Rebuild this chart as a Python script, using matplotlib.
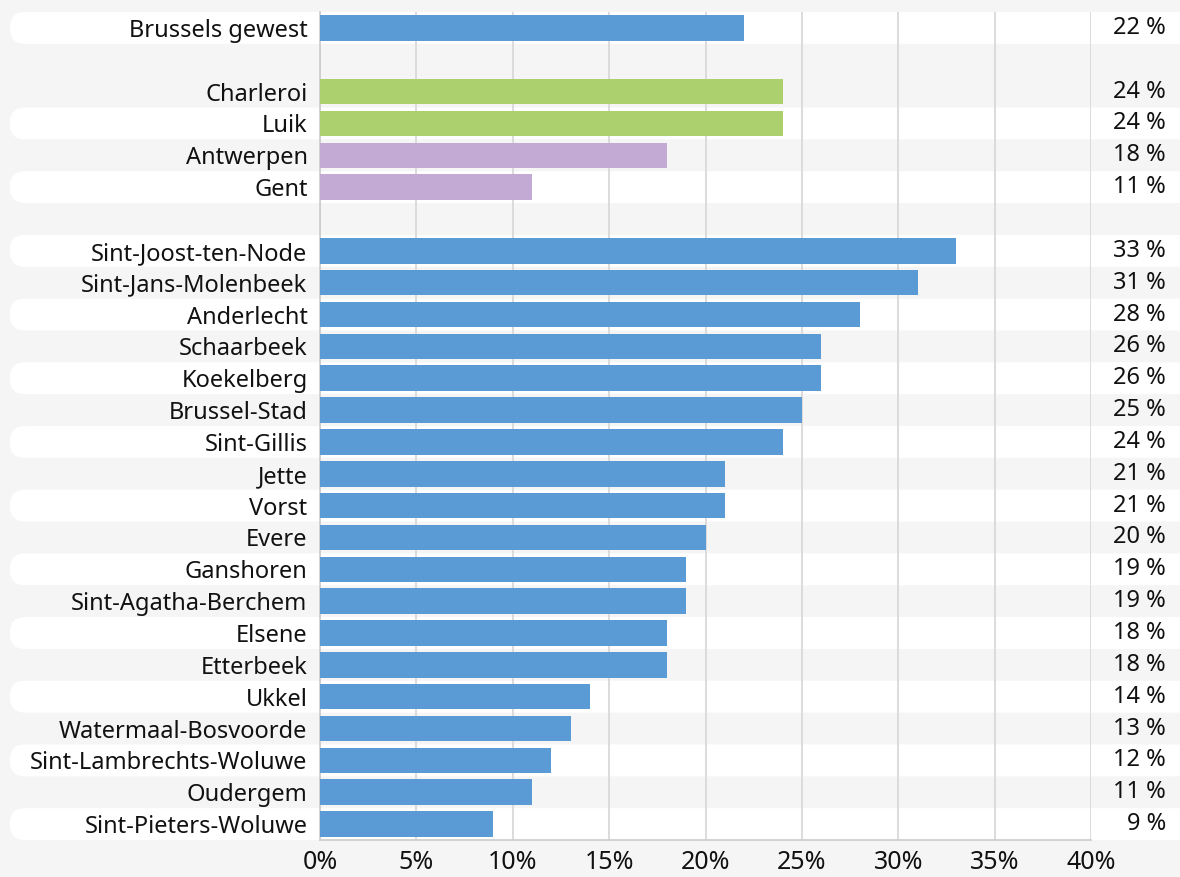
import matplotlib
matplotlib.use("Agg")
import matplotlib.pyplot as plt
from matplotlib.patches import FancyBboxPatch
from matplotlib.transforms import blended_transform_factory

# ---- data (top to bottom); None marks an empty spacer row ----
labels = ["Brussels gewest", None,
          "Charleroi", "Luik", "Antwerpen", "Gent", None,
          "Sint-Joost-ten-Node", "Sint-Jans-Molenbeek", "Anderlecht", "Schaarbeek",
          "Koekelberg", "Brussel-Stad", "Sint-Gillis", "Jette", "Vorst", "Evere",
          "Ganshoren", "Sint-Agatha-Berchem", "Elsene", "Etterbeek", "Ukkel",
          "Watermaal-Bosvoorde", "Sint-Lambrechts-Woluwe", "Oudergem",
          "Sint-Pieters-Woluwe"]
values = [22, None,
          24, 24, 18, 11, None,
          33, 31, 28, 26, 26, 25, 24, 21, 21, 20, 19, 19, 18, 18, 14, 13, 12, 11, 9]
groups = ["region", None,
          "wallonia", "wallonia", "flanders", "flanders", None] + ["brussels"] * 19
xticks = [0, 5, 10, 15, 20, 25, 30, 35, 40]

group_colors = {"region": "#5b9bd5", "brussels": "#5b9bd5",
                "wallonia": "#add06e", "flanders": "#c3aad4"}

W, H = 1180, 877
BG = "#f5f5f5"
plt.rcParams["font.family"] = ["Noto Sans", "DejaVu Sans"]
FS = 17

fig = plt.figure(figsize=(W / 100, H / 100), dpi=100, facecolor=BG)

# background axes in pixel coordinates for the stripes
bg = fig.add_axes([0, 0, 1, 1], zorder=0)
bg.set_xlim(0, W)
bg.set_ylim(0, H)
bg.axis("off")

ax = fig.add_axes([320 / W, 1 - 840 / H, (1091 - 320) / W, (840 - 12) / H], zorder=1)
ax.patch.set_visible(False)

n = len(labels)
ax.set_ylim(n - 0.5, -0.5)
ax.set_xlim(0, 40)

# stripes: white pills behind alternate data rows
for i, lab in enumerate(labels):
    if lab is None:
        continue
    if i == 0 or i % 2 == 1:
        _, ytop = ax.transData.transform((0, i - 0.5))
        _, ybot = ax.transData.transform((0, i + 0.5))
        p = FancyBboxPatch((10, ybot), W + 40, ytop - ybot,
                           boxstyle="round,pad=0,rounding_size=15",
                           facecolor="white", edgecolor="none")
        bg.add_patch(p)

ypos = [i for i, v in enumerate(values) if v is not None]
vals = [v for v in values if v is not None]
cols = [group_colors[g] for g in groups if g is not None]
ax.barh(ypos, vals, height=0.8, color=cols, zorder=3)

ax.set_yticks(ypos)
ax.set_yticklabels([l for l in labels if l is not None])
ax.tick_params(axis="y", length=0, pad=9, labelsize=FS, labelcolor="#111111")
ax.set_xticks(xticks)
ax.set_xticklabels([f"{t}%" for t in xticks])
ax.tick_params(axis="x", length=0, pad=7.5, labelsize=18, labelcolor="#111111")

ax.grid(axis="x", color="#d6d6d6", linewidth=1.2, zorder=0)
ax.set_axisbelow(True)
for s in ["top", "right"]:
    ax.spines[s].set_visible(False)
for s in ["left", "bottom"]:
    ax.spines[s].set_color("#cccccc")
    ax.spines[s].set_linewidth(1.2)

tr = blended_transform_factory(fig.transFigure, ax.transData)
for y, v in zip(ypos, vals):
    ax.text(1166 / W, y, f"{v} %", transform=tr, ha="right", va="center",
            fontsize=FS, color="#111111")

fig.savefig("out.png", dpi=100, facecolor=BG)
